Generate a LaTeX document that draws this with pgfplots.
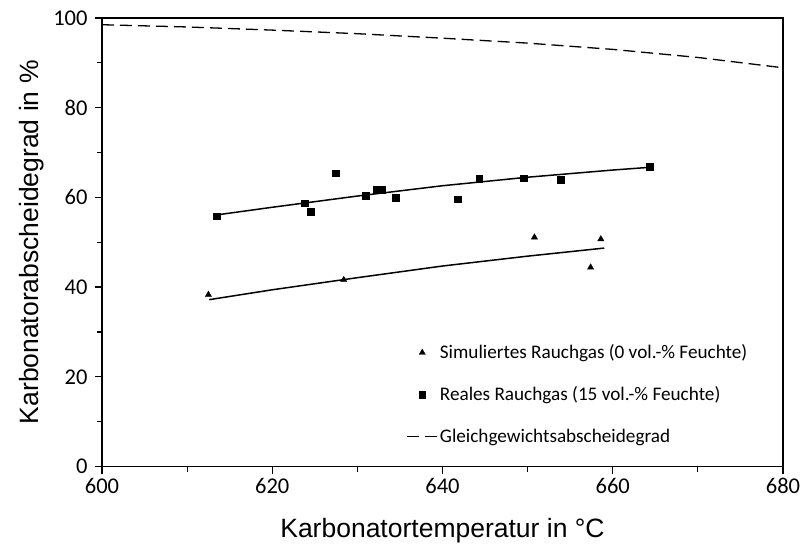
\documentclass[border=0pt]{standalone}
\usepackage{pgfplots}
\pgfplotsset{compat=1.18}
\usepackage{fontspec}
\setmainfont{Carlito}
\newfontfamily\arialf{Liberation Sans}
\begin{document}
\begin{tikzpicture}
\useasboundingbox (0,0) rectangle (804bp,554bp);
\begin{axis}[
  at={(102bp,87.5bp)}, anchor=south west,
  width=681bp, height=448.5bp, scale only axis,
  xmin=600, xmax=680, ymin=0, ymax=100,
  xtick={600,620,...,680}, ytick={0,20,...,100},
  minor x tick num=1, minor y tick num=1,
  tick align=outside, tick pos=left,
  major tick length=7bp, minor tick length=5bp,
  axis line style={line width=1.2bp},
  every tick/.style={line width=1.2bp, black},
  /pgf/number format/assume math mode=true,
  /pgf/number format/set thousands separator={},
  tick label style={font=\fontsize{22.5bp}{26bp}\selectfont},
  xticklabel style={yshift=-1bp},
  yticklabel style={xshift=-4bp},
  xlabel={Karbonatortemperatur in °C},
  ylabel={Karbonatorabscheidegrad in \%},
  xlabel style={font=\arialf\fontsize{26.5bp}{30bp}\selectfont, at={(axis description cs:0.5,-0.1427)}, anchor=center},
  ylabel style={font=\arialf\fontsize{26.5bp}{30bp}\selectfont, at={(axis description cs:-0.104,0.5)}, anchor=center},
  legend style={draw=none, fill=none, at={(0.447,0.276)}, anchor=north west,
    font=\fontsize{19.2bp}{22bp}\selectfont, row sep=22.5bp, inner sep=0pt,
    cells={anchor=west}},
  legend image code/.code={\draw[mark repeat=2,mark phase=2,#1] plot coordinates {(0bp,0bp) (15bp,0bp) (30bp,0bp)};},
]
% Simulated flue gas (triangles)
\addplot[only marks, mark=triangle*, mark size=3.6bp, black] coordinates {
 (612.5,38.3) (628.4,41.6) (650.8,51.1) (658.6,50.7) (657.4,44.4)
};
\addlegendentry{Simuliertes Rauchgas (0 vol.-\% Feuchte)}
% Real flue gas (squares)
\addplot[only marks, mark=square*, mark size=3.4bp, black] coordinates {
 (613.5,55.8) (623.8,58.7) (624.5,56.9) (627.5,65.4) (631.0,60.3)
 (632.3,61.8) (632.9,61.8) (634.5,59.9) (641.8,59.6) (644.3,64.1)
 (649.5,64.3) (653.9,64.0) (664.3,66.9)
};
\addlegendentry{Reales Rauchgas (15 vol.-\% Feuchte)}
% Equilibrium
\addplot[black, line width=1.3bp, dash pattern=on 12bp off 6bp] coordinates {
 (600,98.5) (610,98.0) (620,97.3) (630,96.5) (640,95.5) (650,94.4) (660,93.0) (670,91.2) (680,88.9)
};
\addlegendentry{Gleichgewichtsabscheidegrad}
% Trend lines
\addplot[black, line width=1.5bp, forget plot] coordinates {
 (613.5,56.1) (620,57.8) (630,60.3) (640,62.6) (650,64.5) (660,66.1) (664.3,66.7)
};
\addplot[black, line width=1.5bp, forget plot] coordinates {
 (612.6,37.2) (620,39.4) (630,42.1) (640,44.7) (650,46.9) (659,48.7)
};
\end{axis}
\end{tikzpicture}
\end{document}
